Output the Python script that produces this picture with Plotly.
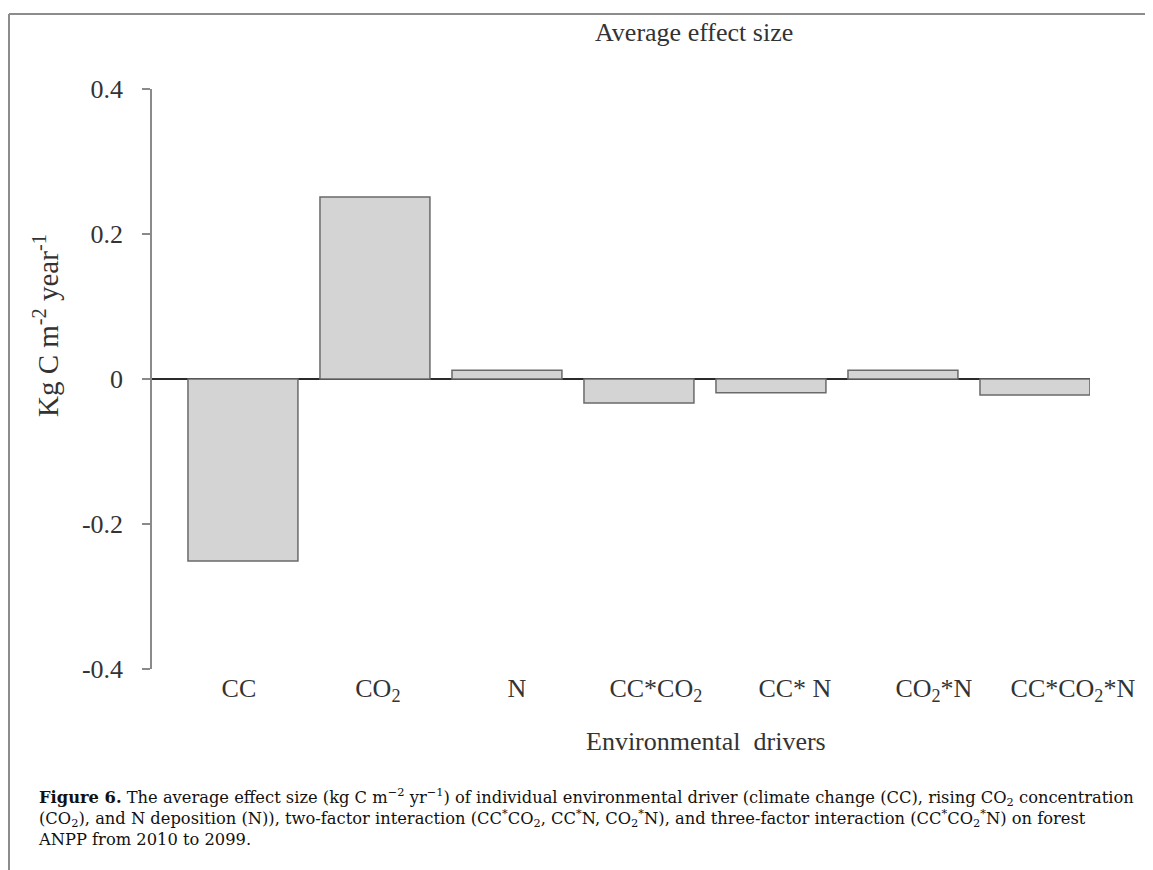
import plotly.graph_objects as go

# ---- data ----
categories = ["CC", "CO2", "N", "CC*CO2", "CC*N", "CO2*N", "CC*CO2*N"]
tick_labels = ["CC", "CO<sub>2</sub>", "N", "CC*CO<sub>2</sub>", "CC* N",
               "CO<sub>2</sub>*N", "CC*CO<sub>2</sub>*N"]
effect_size = [-0.251, 0.251, 0.012, -0.033, -0.019, 0.012, -0.022]
y_ticks = [-0.4, -0.2, 0, 0.2, 0.4]
y_tick_labels = ["-0.4", "-0.2", "0", "0.2", "0.4"]

# ---- layout geometry (screen pixels; page body adds an 8px margin) ----
OFF = 8
W, H = 1153 - OFF, 870 - OFF
L, R, T, B = 152 - OFF, 1090 - OFF, 89 - OFF, 669 - OFF


def px2x(px):
    return (px - OFF - L) / (R - L)


def py2y(py):
    return (B - (py - OFF)) / (B - T)


SERIF = "Liberation Serif, Times New Roman, serif"
CAP = "DejaVu Serif, serif"

fig = go.Figure()
fig.add_trace(go.Bar(
    x=categories, y=effect_size,
    marker=dict(color="#d4d4d4", line=dict(color="#6a6a6a", width=1.5)),
    width=0.833, showlegend=False, hoverinfo="x+y",
))
# invisible companion trace carrying the category labels on the label axis
fig.add_trace(go.Scatter(
    x=categories, y=effect_size, xaxis="x2", mode="markers",
    marker=dict(opacity=0), showlegend=False, hoverinfo="skip",
))

fig.update_layout(
    width=W, height=H,
    margin=dict(l=L, r=W - R, t=T, b=H - B, pad=0),
    paper_bgcolor="white", plot_bgcolor="white",
    font=dict(family=SERIF, color="#333333"),
    xaxis=dict(
        type="category", range=[-0.689, 6.417],
        showticklabels=False, showline=False, showgrid=False, zeroline=False, ticks="",
    ),
    xaxis2=dict(
        type="category", overlaying="x", anchor="y", side="bottom",
        range=[-0.625, 6.123],
        tickmode="array", tickvals=categories, ticktext=tick_labels,
        showline=False, showgrid=False, zeroline=False, ticks="",
        tickfont=dict(family=SERIF, size=26, color="#333333"),
        ticklabelstandoff=1,
    ),
    yaxis=dict(
        range=[-0.4, 0.4], tickmode="array", tickvals=y_ticks, ticktext=y_tick_labels,
        showline=True, linecolor="#8a8a8a", linewidth=1.5,
        ticks="outside", ticklen=8, tickcolor="#8a8a8a", tickwidth=1.5,
        showgrid=False, zeroline=True, zerolinecolor="#2a2a2a", zerolinewidth=2,
        tickfont=dict(family=SERIF, size=26, color="#333333"),
        ticklabelstandoff=14,
    ),
)

annotations = [
    dict(text="Average effect size", x=px2x(694), y=py2y(32), xref="paper", yref="paper",
         showarrow=False, xanchor="center", yanchor="middle",
         font=dict(family=SERIF, size=26, color="#333333")),
    dict(text="Kg C m<sup>-2</sup> year<sup>-1</sup>", x=px2x(46), y=py2y(326),
         xref="paper", yref="paper", showarrow=False, textangle=-90,
         xanchor="center", yanchor="middle",
         font=dict(family=SERIF, size=29, color="#333333")),
    dict(text="Environmental  drivers", x=px2x(706), y=py2y(741), xref="paper", yref="paper",
         showarrow=False, xanchor="center", yanchor="middle",
         font=dict(family=SERIF, size=26, color="#333333")),
    dict(text=("<b>Figure 6.</b> The average effect size (kg C m<sup>−2</sup> yr<sup>−1</sup>) of individual "
               "environmental driver (climate change (CC), rising CO<sub>2</sub> concentration<br>"
               "(CO<sub>2</sub>), and N deposition (N)), two-factor interaction (CC<sup>*</sup>CO<sub>2</sub>, "
               "CC<sup>*</sup>N, CO<sub>2</sub><sup>*</sup>N), and three-factor interaction "
               "(CC<sup>*</sup>CO<sub>2</sub><sup>*</sup>N) on forest<br>"
               "ANPP from 2010 to 2099."),
         x=px2x(36), y=py2y(783), xref="paper", yref="paper", showarrow=False,
         xanchor="left", yanchor="top", align="left",
         font=dict(family=CAP, size=16.3, color="#111111")),
]
fig.update_layout(annotations=annotations)

frame = dict(color="#8c8c8c", width=2)
fig.update_layout(shapes=[
    dict(type="line", xref="paper", yref="paper", x0=px2x(9), x1=px2x(1170),
         y0=py2y(14), y1=py2y(14), line=frame),
    dict(type="line", xref="paper", yref="paper", x0=px2x(9), x1=px2x(9),
         y0=py2y(14), y1=py2y(890), line=frame),
])

fig.write_html("out.html")
